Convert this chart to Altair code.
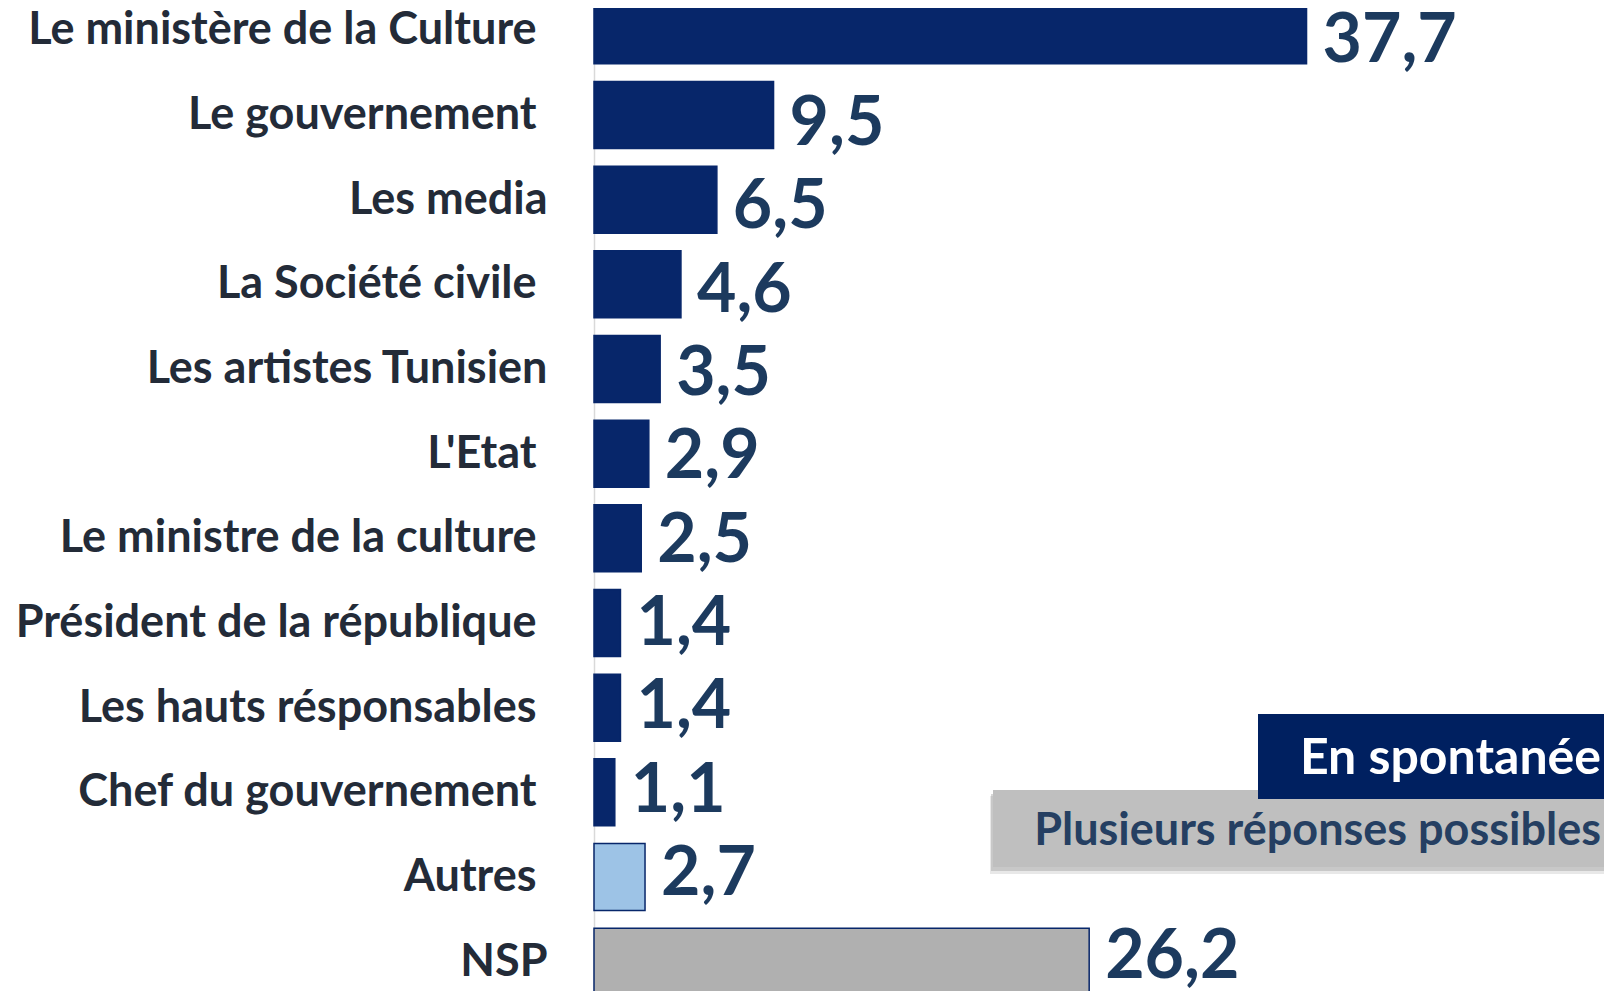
import altair as alt
import pandas as pd

# trailing "\u00a0\u200b" reproduces the trailing space of the original labels
categories = [
    "Le ministère de la Culture\u00a0\u200b",
    "Le gouvernement\u00a0\u200b",
    "Les media",
    "La Société civile\u00a0\u200b",
    "Les artistes Tunisien",
    "L'Etat\u00a0\u200b",
    "Le ministre de la culture\u00a0\u200b",
    "Président de la république\u00a0\u200b",
    "Les hauts résponsables\u00a0\u200b",
    "Chef du gouvernement\u00a0\u200b",
    "Autres\u00a0\u200b",
    "NSP",
]
values = [37.7, 9.5, 6.5, 4.6, 3.5, 2.9, 2.5, 1.4, 1.4, 1.1, 2.7, 26.2]
bar_colors = ["#07266A"] * 10 + ["#9DC3E6", "#B0B0B0"]

legend_main = "En spontanée"
legend_sub = "Plusieurs réponses possibles"

df = pd.DataFrame({"cat": categories, "value": values})

FONT = "Lato"
NAVY = "#07266A"

y_enc = alt.Y(
    "cat:N",
    sort=categories,
    title=None,
    scale=alt.Scale(paddingInner=0.209, paddingOuter=0.1045),
    axis=alt.Axis(
        ticks=False,
        domain=True,
        domainColor="#D9D9D9",
        domainWidth=1.5,
        labelFont=FONT,
        labelFontWeight="bold",
        labelFontSize=45,
        labelColor="#232B38",
        labelPadding=47,
        labelLimit=0,
        grid=False,
    ),
)
x_enc = alt.X("value:Q", scale=alt.Scale(domain=[0, 50]), axis=None)

bars = alt.Chart(df).mark_bar(stroke=NAVY, strokeWidth=1.5).encode(
    y=y_enc,
    x=x_enc,
    color=alt.Color("cat:N", scale=alt.Scale(domain=categories, range=bar_colors), legend=None),
)

labels = alt.Chart(df).transform_calculate(
    lab="replace(format(datum.value, '.1f'), '.', ',')"
).mark_text(
    align="left", baseline="alphabetic", dx=16, dy=24,
    font=FONT, fontWeight="bold", fontSize=68, color="#1C3A5E",
).encode(
    y=alt.Y("cat:N", sort=categories, scale=alt.Scale(type="point", padding=0.595), axis=None),
    x="value:Q",
    text="lab:N",
)

one = pd.DataFrame({"k": [0]})

shadow1 = alt.Chart(one).mark_rect(color="#8C8C8C", opacity=0.35).encode(
    x=alt.value(397), x2=alt.value(1010), y=alt.value(806), y2=alt.value(883)
)
shadow2 = alt.Chart(one).mark_rect(color="#8C8C8C", opacity=0.2).encode(
    x=alt.value(396), x2=alt.value(1010), y=alt.value(808), y2=alt.value(886)
)
gray_box = alt.Chart(one).mark_rect(color="#BFBFBF").encode(
    x=alt.value(399), x2=alt.value(1010), y=alt.value(802), y2=alt.value(879)
)
navy_box = alt.Chart(one).mark_rect(color="#002060").encode(
    x=alt.value(664), x2=alt.value(1010), y=alt.value(726), y2=alt.value(811)
)
main_txt = alt.Chart(one).mark_text(
    align="right", baseline="alphabetic", font=FONT, fontWeight="bold",
    fontSize=50, color="white",
).encode(x=alt.value(1007), y=alt.value(786), text=alt.value(legend_main))
sub_txt = alt.Chart(one).mark_text(
    align="right", baseline="alphabetic", font=FONT, fontWeight="bold",
    fontSize=45, color="#253F62",
).encode(x=alt.value(1007), y=alt.value(857), text=alt.value(legend_sub))

chart = alt.layer(
    bars, labels, shadow2, shadow1, gray_box, navy_box, main_txt, sub_txt
).resolve_scale(y="independent").properties(
    width=945,
    height=1016,
    autosize=alt.AutoSizeParams(type="none"),
    padding={"left": 586, "right": 65, "top": -20, "bottom": -13},
    background="white",
).configure_view(stroke=None)

chart.save("out.html", embed_options={"renderer": "svg", "actions": False})
